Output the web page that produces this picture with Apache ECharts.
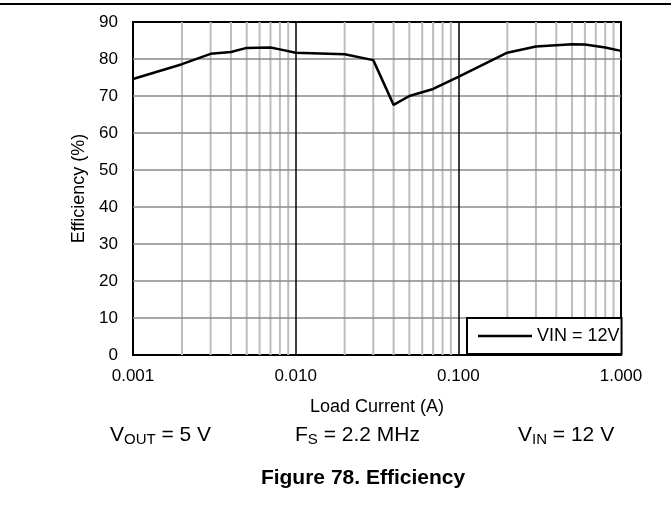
<!DOCTYPE html>
<html>
<head>
<meta charset="utf-8">
<script src="https://cdn.jsdelivr.net/npm/echarts@6/dist/echarts.min.js"></script>
<style>
  html, body { margin: 0; padding: 0; background: #fff; }
  #chart { width: 671px; height: 508px; }
</style>
</head>
<body>
<div id="chart"></div>
<script>
// load current (A) and efficiency (%)
const current = [0.001, 0.002, 0.003, 0.004, 0.005, 0.007, 0.008, 0.01, 0.02, 0.03,
  0.04, 0.05, 0.07, 0.1, 0.2, 0.3, 0.5, 0.6, 0.8, 1.0]
const efficiency = [74.6, 78.6, 81.4, 81.9, 83.0, 83.1, 82.6, 81.7, 81.3, 79.7,
  67.6, 70.0, 71.9, 75.2, 81.7, 83.4, 84.0, 83.9, 83.1, 82.2]
const decades = [0.001, 0.01, 0.1]
const minorSteps = [2, 3, 4, 5, 6, 7, 8, 9]
const yMin = 0
const yMax = 90
const seriesName = 'VIN = 12V'

const FONT = '"Liberation Sans", Arial, sans-serif'

// log grid lines at 2..9 of every decade
const minorLines = []
decades.forEach(d => {
  minorSteps.forEach(k => minorLines.push([+(d * k).toPrecision(3), yMin]))
})

const chart = echarts.init(document.getElementById('chart'), null, { renderer: 'canvas' })

const sub = (size) => ({ fontSize: size, fontFamily: FONT, fill: '#000', lineHeight: 12, verticalAlign: 'bottom' })
const main = (size) => ({ fontSize: size, fontFamily: FONT, fill: '#000', lineHeight: 24, verticalAlign: 'middle' })

const option = {
  animation: false,
  backgroundColor: '#fff',
  textStyle: { fontFamily: FONT, color: '#000' },
  grid: {
    left: 133,
    top: 22,
    width: 488,
    height: 333,
    show: true,
    borderColor: '#000',
    borderWidth: 2,
    backgroundColor: 'transparent'
  },
  xAxis: {
    type: 'log',
    logBase: 10,
    min: 0.001,
    max: 1,
    z: 2,
    name: 'Load Current (A)',
    nameLocation: 'middle',
    nameGap: 43,
    nameTextStyle: { fontSize: 18, color: '#000', fontFamily: FONT },
    axisLine: { show: false },
    axisTick: { show: false },
    axisLabel: {
      fontSize: 17,
      color: '#000',
      margin: 13,
      formatter: v => Number(v).toFixed(3)
    },
    splitLine: {
      show: true,
      showMinLine: false,
      showMaxLine: false,
      lineStyle: { color: '#000', width: 1.5 }
    }
  },
  yAxis: {
    type: 'value',
    min: yMin,
    max: yMax,
    interval: 10,
    z: 2,
    name: 'Efficiency (%)',
    nameLocation: 'middle',
    nameGap: 44,
    nameTextStyle: { fontSize: 18, color: '#000', fontFamily: FONT },
    axisLine: { show: false },
    axisTick: { show: false },
    axisLabel: { fontSize: 17, color: '#000', margin: 15 },
    splitLine: {
      show: true,
      showMinLine: false,
      showMaxLine: false,
      lineStyle: { color: '#8a8a8a', width: 1.5 }
    }
  },
  legend: {
    left: 467,
    top: 318,
    z: 10,
    orient: 'horizontal',
    backgroundColor: '#fff',
    borderColor: '#000',
    borderWidth: 2,
    borderRadius: 0,
    padding: [9, 2, 9, 11],
    icon: 'rect',
    itemWidth: 54,
    itemHeight: 2.5,
    itemGap: 0,
    textStyle: { fontSize: 18, color: '#000', fontFamily: FONT },
    data: [seriesName]
  },
  series: [
    {
      name: 'minor-grid',
      type: 'custom',
      z: 1,
      silent: true,
      encode: { x: 0, y: 1 },
      data: minorLines,
      renderItem: (params, api) => {
        const x = api.value(0)
        const p0 = api.coord([x, yMin])
        const p1 = api.coord([x, yMax])
        return {
          type: 'line',
          shape: { x1: p0[0], y1: p0[1], x2: p1[0], y2: p1[1] },
          style: { stroke: '#bdbdbd', lineWidth: 2 }
        }
      }
    },
    {
      name: seriesName,
      type: 'line',
      z: 3,
      symbol: 'none',
      smooth: false,
      lineStyle: { color: '#000', width: 2.5 },
      itemStyle: { color: '#000' },
      data: current.map((c, i) => [c, efficiency[i]])
    }
  ],
  graphic: [
    {
      type: 'line',
      shape: { x1: 0, y1: 4, x2: 671, y2: 4 },
      style: { stroke: '#000', lineWidth: 2 },
      silent: true
    },
    {
      type: 'text',
      x: 110,
      y: 435,
      style: {
        text: '{m|V}{s|OUT}{m| = 5 V}',
        align: 'left',
        verticalAlign: 'middle',
        rich: { m: main(21), s: sub(15) }
      }
    },
    {
      type: 'text',
      x: 295,
      y: 435,
      style: {
        text: '{m|F}{s|S}{m| = 2.2 MHz}',
        align: 'left',
        verticalAlign: 'middle',
        rich: { m: main(21), s: sub(15) }
      }
    },
    {
      type: 'text',
      x: 518,
      y: 435,
      style: {
        text: '{m|V}{s|IN}{m| = 12 V}',
        align: 'left',
        verticalAlign: 'middle',
        rich: { m: main(21), s: sub(15) }
      }
    },
    {
      type: 'text',
      x: 363,
      y: 478,
      style: {
        text: 'Figure 78. Efficiency',
        align: 'center',
        verticalAlign: 'middle',
        fontSize: 21,
        fontWeight: 'bold',
        fontFamily: FONT,
        fill: '#000'
      }
    }
  ]
}

chart.setOption(option)

window.addEventListener('resize', () => {
  chart.resize()
})
</script>
</body>
</html>
